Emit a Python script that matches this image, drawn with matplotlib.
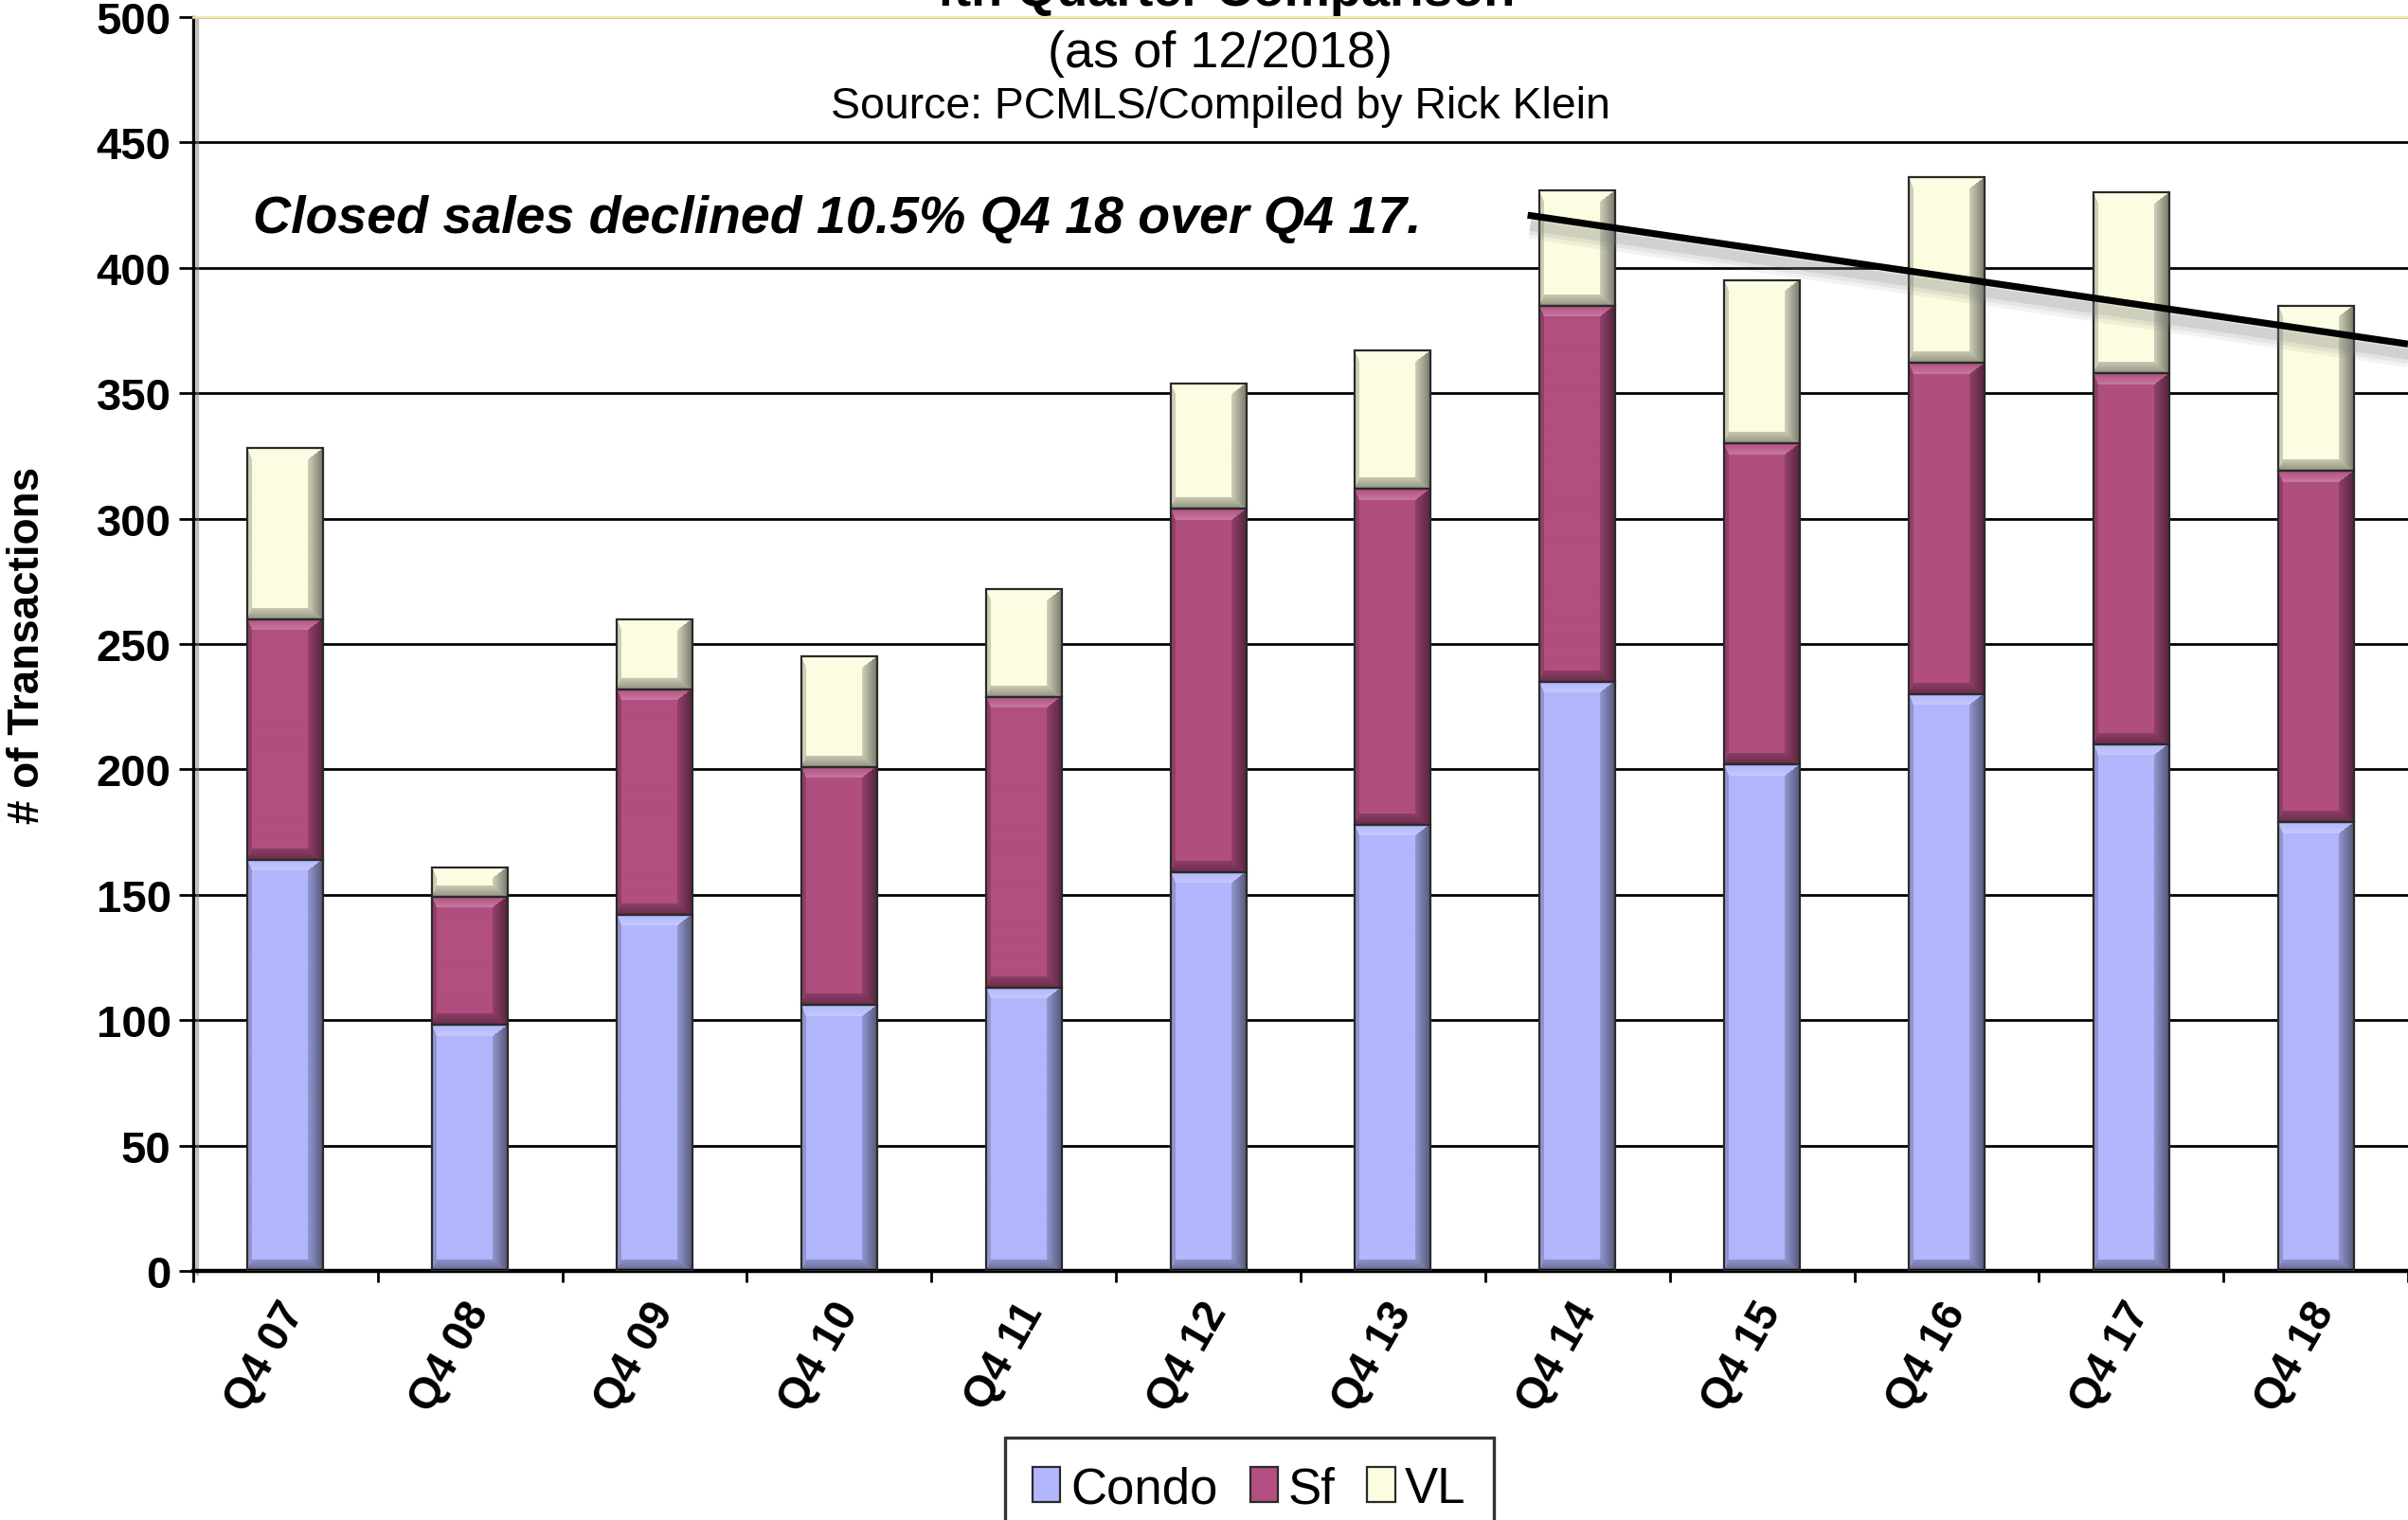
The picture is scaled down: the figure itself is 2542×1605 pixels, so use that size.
import numpy as np
import matplotlib
matplotlib.use("Agg")
import matplotlib.pyplot as plt
import matplotlib.colors as mcolors
import matplotlib.patheffects as pe
import matplotlib.transforms as mtransforms
from matplotlib.patches import Patch

# ── Data: 4th quarter closed sales by property type ─────────────
quarters = ["Q4 07", "Q4 08", "Q4 09", "Q4 10", "Q4 11", "Q4 12",
            "Q4 13", "Q4 14", "Q4 15", "Q4 16", "Q4 17", "Q4 18"]
condo = [164, 98, 142, 106, 113, 159, 178, 235, 202, 230, 210, 179]
sf    = [96, 51, 90, 95, 116, 145, 134, 150, 128, 132, 148, 140]
vl    = [68, 12, 28, 44, 43, 50, 55, 46, 65, 74, 72, 66]

# trend line drawn over the last quarters (category position, transactions)
trend_x = [6.73, 11.5]
trend_y = [421, 369.6]

series_names  = ["Condo", "Sf", "VL"]
series_colors = ["#B2B6FC", "#B24E80", "#FCFCE0"]

plt.rcParams["font.family"] = ["Liberation Sans", "DejaVu Sans"]

W, H, DPI = 2542, 1606, 200
fig = plt.figure(figsize=(W / DPI, H / DPI), dpi=DPI)
ax_l = 204 / W
ax_b = 1 - 1343 / H
ax_w = 1 - ax_l
ax_h = (1343 - 19) / H
ax = fig.add_axes([ax_l, ax_b, ax_w, ax_h])

YMAX = 500
ax.set_xlim(-0.5, len(quarters) - 0.5)
ax.set_ylim(0, YMAX)
px_per_x = ax_w * W / len(quarters)
px_per_y = ax_h * H / YMAX


def bevel_image(color, w_px, h_px):
    """RGB array with a simple bevel: light top, dark bottom/right edges."""
    w = max(int(round(w_px)), 2)
    h = max(int(round(h_px)), 2)
    X, Y = np.meshgrid(np.arange(w) + 0.5, np.arange(h) + 0.5)
    base = np.array(mcolors.to_rgb(color))
    nl = X / 5.0
    nr = (w - X) / 16.0
    nt = Y / 12.0
    nb = (h - Y) / 12.0
    stack = np.stack([nl, nr, nt, nb])
    edge = np.argmin(stack, axis=0)
    near = np.min(stack, axis=0)
    img = np.tile(base, (h, w, 1))
    inside = near < 1
    fac = np.ones((h, w))
    fac = np.where(inside & (edge == 0), 0.82, fac)
    fac = np.where(inside & (edge == 1), 0.48 + 0.35 * np.clip(nr, 0, 1), fac)
    fac = np.where(inside & (edge == 3), 0.58 + 0.22 * np.clip(nb, 0, 1), fac)
    img = img * fac[..., None]
    lift = np.where(inside & (edge == 2), 0.25 * np.clip(nt, 0, 1), 0.0)
    img = img + (1 - img) * lift[..., None]
    return np.clip(img, 0, 1)


# ── Stacked bars ────────────────────────────────────────────────
x = np.arange(len(quarters))
bar_w = 0.41
bottom = np.zeros(len(quarters))
for name, vals, col in zip(series_names, [condo, sf, vl], series_colors):
    bars = ax.bar(x, vals, bar_w, bottom=bottom, facecolor="none",
                  edgecolor="#2a2a2a", linewidth=0.8, zorder=3)
    for rect in bars:
        rx, ry = rect.get_x(), rect.get_y()
        rw, rh = rect.get_width(), rect.get_height()
        img = bevel_image(col, rw * px_per_x, rh * px_per_y)
        im = ax.imshow(img, extent=(rx, rx + rw, ry, ry + rh), aspect="auto",
                       interpolation="bilinear", zorder=2)
        im.set_clip_path(rect)
    bottom += np.array(vals)

ax.set_xlim(-0.5, len(quarters) - 0.5)
ax.set_ylim(0, YMAX)

# ── Axes styling ────────────────────────────────────────────────
ax.set_yticks(np.arange(0, YMAX + 1, 50))
ax.yaxis.grid(True, color="black", linewidth=1.0)
ax.set_axisbelow(True)
ax.tick_params(axis="y", direction="out", length=5.4, width=1.0, pad=3,
               labelsize=17)
for lab in ax.get_yticklabels():
    lab.set_fontweight("bold")

ax.set_xticks(x)
ax.set_xticklabels(quarters, rotation=60, ha="right", va="center",
                   rotation_mode="anchor", fontsize=16.5, fontweight="bold")
ax.tick_params(axis="x", which="major", length=0, pad=13)
ax.set_xticks(np.arange(-0.5, len(quarters)), minor=True)
ax.tick_params(axis="x", which="minor", direction="out", length=4.3, width=1.0)
shift = mtransforms.ScaledTranslation(10 / DPI, 0, fig.dpi_scale_trans)
for lab in ax.get_xticklabels():
    lab.set_transform(lab.get_transform() + shift)

ax.spines["right"].set_visible(False)
ax.spines["top"].set_color("#EDE7B0")
ax.spines["top"].set_linewidth(1.0)
ax.spines["bottom"].set_linewidth(1.6)
ax.spines["left"].set_linewidth(1.2)
ax.spines["left"].set_path_effects([
    pe.SimpleLineShadow(offset=(1.5, -1), shadow_color="gray", alpha=0.5),
    pe.Normal()])

ax.set_ylabel("# of Transactions", fontsize=16.5, fontweight="bold")
ax.yaxis.label.set_va("center")
ax.yaxis.set_label_coords(-(204 - 29) / (ax_w * W), 0.5)

# ── Trend line and annotation ───────────────────────────────────
shadow = [pe.SimpleLineShadow(offset=(1, -4), shadow_color="gray",
                              alpha=a, linewidth=lw)
          for a, lw in [(0.1, 10), (0.12, 7), (0.18, 4)]]
ax.plot(trend_x, trend_y, color="black", linewidth=2.6, zorder=5,
        solid_capstyle="butt", path_effects=shadow + [pe.Normal()])
ax.text(267 / W, 1 - 232 / H, "Closed sales declined 10.5% Q4 18 over Q4 17.",
        transform=fig.transFigure, fontsize=20, fontweight="bold",
        style="italic", ha="left", va="center")

# ── Titles ──────────────────────────────────────────────────────
cx = 1288 / W
fig.text(cx, 1 - 6 / H, "4th Quarter Comparison", ha="center",
         va="baseline", fontsize=19.5, fontweight="bold")
fig.text(cx, 1 - 57 / H, "(as of 12/2018)", ha="center", va="center",
         fontsize=19.5)
fig.text(cx, 1 - 113 / H, "Source: PCMLS/Compiled by Rick Klein",
         ha="center", va="center", fontsize=16.7)

# ── Legend ──────────────────────────────────────────────────────
handles = [Patch(facecolor=c, edgecolor="#2a2a2a", linewidth=0.8, label=n)
           for n, c in zip(series_names, series_colors)]
leg = fig.legend(handles=handles, loc="upper center",
                 bbox_to_anchor=(1319 / W, 1 - 1519 / H), ncol=3,
                 fontsize=19, frameon=True, fancybox=False,
                 handlelength=0.55, handleheight=0.7, handletextpad=0.2,
                 columnspacing=0.65, borderpad=0.55, borderaxespad=0)
leg.get_frame().set_edgecolor("black")
leg.get_frame().set_linewidth(1.2)

fig.savefig("out.png", dpi=DPI)
